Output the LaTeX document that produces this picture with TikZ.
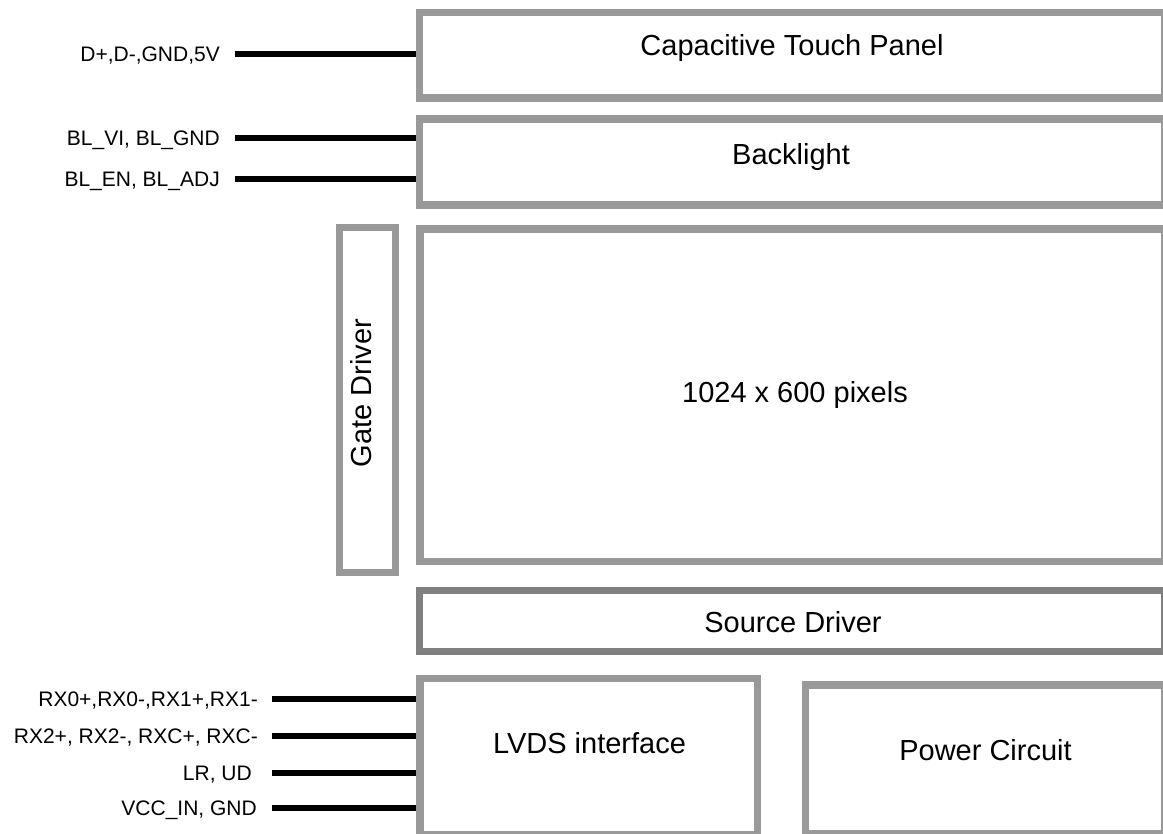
\documentclass[tikz,border=0pt]{standalone}
\usepackage{fontspec}
\setmainfont{Liberation Sans}
\definecolor{boxgray}{HTML}{999999}
\definecolor{darkgray}{HTML}{808080}
\tikzset{
  blk/.style={draw=boxgray, line width=7.5pt, fill=white, inner sep=0pt, rectangle},
  big/.style={font=\fontsize{29}{34}\selectfont, inner sep=0pt, anchor=base},
  lab/.style={font=\fontsize{21}{25}\selectfont, inner sep=0pt, anchor=base east},
  wire/.style={line width=5.5pt, black, line cap=butt},
}
\begin{document}
\begin{tikzpicture}[x=1pt, y=-1pt]
\useasboundingbox (0,0) rectangle (1163,834);
% boxes (stroke centre coordinates)
\node[blk, minimum width=745.5pt, minimum height=85.5pt] (touch) at (792.25,55.25) {};
\node[blk, minimum width=745.5pt, minimum height=86pt] (back) at (792.25,162) {};
\node[blk, minimum width=56pt, minimum height=345pt] (gate) at (367.5,400) {};
\node[blk, minimum width=745pt, minimum height=332.5pt] (pix) at (792.5,395.25) {};
\node[blk, draw=darkgray, minimum width=745.5pt, minimum height=61pt] (src) at (792.25,621) {};
\node[blk, minimum width=337.5pt, minimum height=156pt] (lvds) at (588.75,756.5) {};
\node[blk, minimum width=359.5pt, minimum height=149pt] (pwr) at (985.25,759.5) {};
% box texts
\node[big] (ttouch) at (792,55.5) {Capacitive Touch Panel};
\node[big] (tback) at (791,165) {Backlight};
\node[big, rotate=90] (tgate) at (371,393) {Gate Driver};
\node[big] (tpix) at (795,403) {1024 x 600 pixels};
\node[big] (tsrc) at (793,632.5) {Source Driver};
\node[big] (tlvds) at (589.5,753) {LVDS interface};
\node[big] (tpwr) at (985.5,760.5) {Power Circuit};
% left labels and wires
\node[lab] (l1) at (220,61.5) {D+,D-,GND,5V};
\node[lab] (l2) at (220,145.5) {BL\_VI, BL\_GND};
\node[lab] (l3) at (220,186.5) {BL\_EN, BL\_ADJ};
\node[lab] (l4) at (258,706.5) {RX0+,RX0-,RX1+,RX1-};
\node[lab] (l5) at (258,743.5) {RX2+, RX2-, RXC+, RXC-};
\node[lab] (l6) at (252,780.5) {LR, UD};
\node[lab] (l7) at (257,815.5) {VCC\_IN, GND};
\coordinate (w1) at (235,54);
\coordinate (w2) at (235,138);
\coordinate (w3) at (235,179);
\coordinate (w4) at (272,699);
\coordinate (w5) at (272,736);
\coordinate (w6) at (272,773);
\coordinate (w7) at (272,808);
\draw[wire] (w1) -- (w1 -| touch.west);
\draw[wire] (w2) -- (w2 -| back.west);
\draw[wire] (w3) -- (w3 -| back.west);
\draw[wire] (w4) -- (w4 -| lvds.west);
\draw[wire] (w5) -- (w5 -| lvds.west);
\draw[wire] (w6) -- (w6 -| lvds.west);
\draw[wire] (w7) -- (w7 -| lvds.west);
\end{tikzpicture}
\end{document}
